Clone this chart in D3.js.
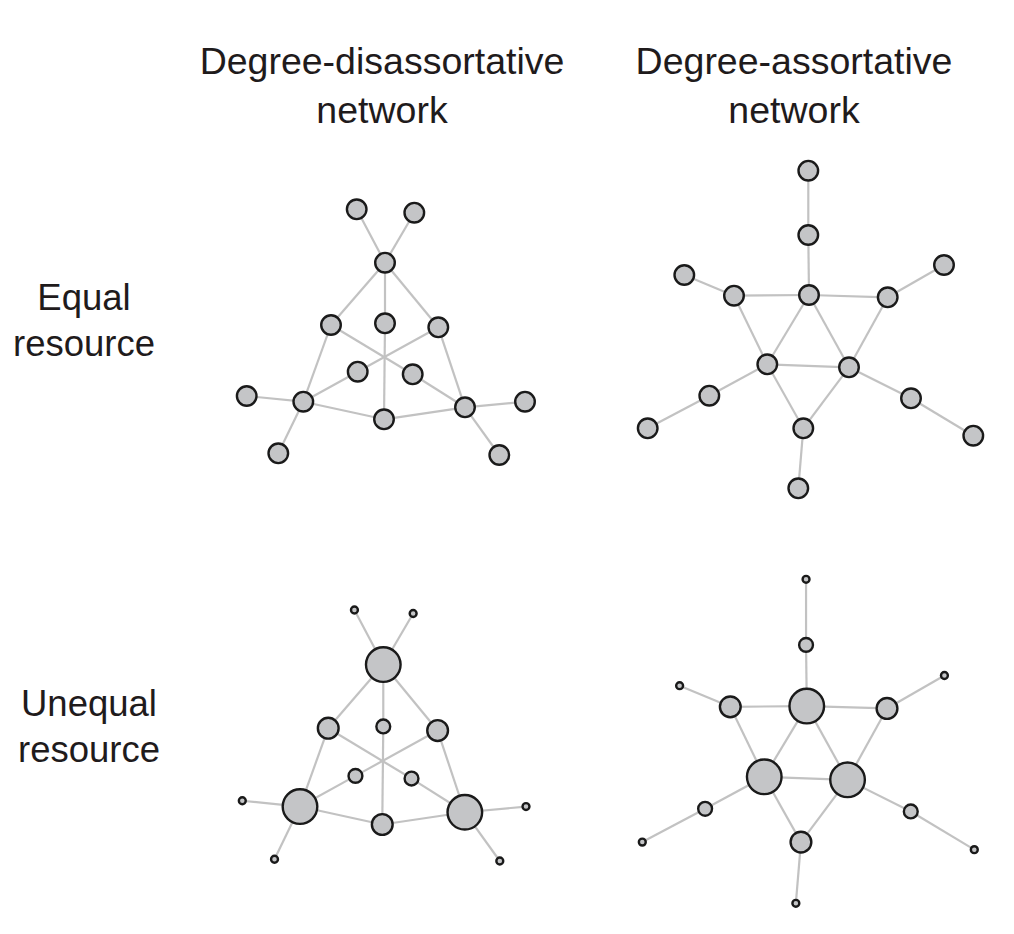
<!DOCTYPE html>
<html>
<head>
<meta charset="utf-8">
<script src="https://cdn.jsdelivr.net/npm/d3@7"></script>
<style>
  html, body { margin: 0; padding: 0; background: #fff; }
  text { font-family: "Liberation Sans", Arial, Helvetica, sans-serif; fill: #1f1b1c; }
</style>
</head>
<body>
<script>
// Layout coordinates of each network (arbitrary layout units)
const disNodes = [
  { id: "a",  x: 110.0, y: 0.0 },
  { id: "b",  x: 167.6, y: 3.4 },
  { id: "h",  x: 138.3, y: 53.4 },
  { id: "l1", x: 84.3,  y: 115.7 },
  { id: "c",  x: 138.3, y: 114.0 },
  { id: "r1", x: 191.6, y: 118.0 },
  { id: "l2", x: 111.0, y: 162.4 },
  { id: "r2", x: 166.0, y: 165.0 },
  { id: "hl", x: 56.6,  y: 192.4 },
  { id: "bt", x: 137.3, y: 210.0 },
  { id: "hr", x: 218.3, y: 198.0 },
  { id: "p1", x: 0.0,   y: 186.7 },
  { id: "p2", x: 31.6,  y: 244.0 },
  { id: "q1", x: 278.3, y: 192.4 },
  { id: "q2", x: 252.6, y: 245.7 }
];
const disLinks = [
  ["a", "h"], ["b", "h"], ["h", "l1"], ["h", "r1"], ["h", "c"], ["c", "bt"],
  ["hl", "l1"], ["hl", "l2"], ["hl", "bt"], ["hl", "p1"], ["hl", "p2"],
  ["hr", "r1"], ["hr", "r2"], ["hr", "bt"], ["hr", "q1"], ["hr", "q2"],
  ["l1", "r2"], ["r1", "l2"]
];

const assNodes = [
  { id: "t1", x: 160.6, y: 0.0 },
  { id: "t2", x: 160.6, y: 64.3 },
  { id: "ct", x: 161.3, y: 124.3 },
  { id: "ul", x: 86.3,  y: 125.0 },
  { id: "ur", x: 240.0, y: 126.6 },
  { id: "u1", x: 36.6,  y: 104.3 },
  { id: "u2", x: 296.3, y: 94.3 },
  { id: "hl", x: 119.6, y: 193.6 },
  { id: "hr", x: 201.3, y: 196.6 },
  { id: "lm", x: 61.6,  y: 225.0 },
  { id: "ll", x: 0.0,   y: 257.6 },
  { id: "rm", x: 263.3, y: 227.6 },
  { id: "rl", x: 325.6, y: 265.0 },
  { id: "bm", x: 155.6, y: 257.6 },
  { id: "bl", x: 150.6, y: 317.6 }
];
const assLinks = [
  ["t1", "t2"], ["t2", "ct"], ["ct", "ul"], ["ct", "ur"], ["ul", "u1"], ["ur", "u2"],
  ["ul", "hl"], ["ur", "hr"], ["ct", "hl"], ["ct", "hr"], ["hl", "hr"],
  ["hl", "lm"], ["lm", "ll"], ["hr", "rm"], ["rm", "rl"],
  ["hl", "bm"], ["hr", "bm"], ["bm", "bl"]
];

const columnTitles = [["Degree-disassortative", "network"], ["Degree-assortative", "network"]];
const rowTitles = [["Equal", "resource"], ["Unequal", "resource"]];
const resourceModes = ["equal", "unequal"];

const W = 1014, H = 934;
const svg = d3.select("body").append("svg")
  .attr("width", W)
  .attr("height", H);

// panel placement: [x0, x1, y0, y1] for node-centre extents
const panels = [
  { net: 0, row: 0, box: [246.7, 525.0, 209.3, 455.0] },
  { net: 0, row: 1, box: [242.3, 526.0, 610.0, 861.0] },
  { net: 1, row: 0, box: [647.7, 973.3, 170.7, 488.3] },
  { net: 1, row: 1, box: [642.3, 974.3, 579.3, 903.3] }
];

const networks = [
  { nodes: disNodes, links: disLinks },
  { nodes: assNodes, links: assLinks }
];

// resource ~ degree^2 when unequal, mean share when equal
const rScale = d3.scaleSqrt().domain([0, 25]).range([0, 17.3]);

panels.forEach(p => {
  const net = networks[p.net];
  const byId = new Map(net.nodes.map(n => [n.id, n]));
  const degree = new Map(net.nodes.map(n => [n.id, 0]));
  net.links.forEach(([s, t]) => {
    degree.set(s, degree.get(s) + 1);
    degree.set(t, degree.get(t) + 1);
  });
  const meanRes = d3.mean(net.nodes, n => degree.get(n.id) ** 2);
  const resource = id => resourceModes[p.row] === "equal" ? meanRes : degree.get(id) ** 2;

  const x = d3.scaleLinear()
    .domain(d3.extent(net.nodes, n => n.x))
    .range([p.box[0], p.box[1]]);
  const y = d3.scaleLinear()
    .domain(d3.extent(net.nodes, n => n.y))
    .range([p.box[2], p.box[3]]);

  const g = svg.append("g");

  g.selectAll("line")
    .data(net.links)
    .enter().append("line")
    .attr("x1", d => x(byId.get(d[0]).x))
    .attr("y1", d => y(byId.get(d[0]).y))
    .attr("x2", d => x(byId.get(d[1]).x))
    .attr("y2", d => y(byId.get(d[1]).y))
    .attr("stroke", "#c2c2c2")
    .attr("stroke-width", 2.2);

  g.selectAll("circle")
    .data(net.nodes)
    .enter().append("circle")
    .attr("cx", d => x(d.x))
    .attr("cy", d => y(d.y))
    .attr("r", d => rScale(resource(d.id)))
    .attr("fill", "#c4c5c7")
    .attr("stroke", "#1a1a1a")
    .attr("stroke-width", 2.4);
});

// column headers
const colX = [382, 794];
columnTitles.forEach((lines, i) => {
  const t = svg.append("text")
    .attr("text-anchor", "middle")
    .attr("font-size", 37.5);
  lines.forEach((s, j) => {
    t.append("tspan")
      .attr("x", colX[i])
      .attr("y", 74 + j * 49)
      .text(s);
  });
});

// row headers
const rowX = [84, 89], rowY = [310, 716];
rowTitles.forEach((lines, i) => {
  const t = svg.append("text")
    .attr("text-anchor", "middle")
    .attr("font-size", 36.5);
  lines.forEach((s, j) => {
    t.append("tspan")
      .attr("x", rowX[i])
      .attr("y", rowY[i] + j * 46)
      .text(s);
  });
});
</script>
</body>
</html>
